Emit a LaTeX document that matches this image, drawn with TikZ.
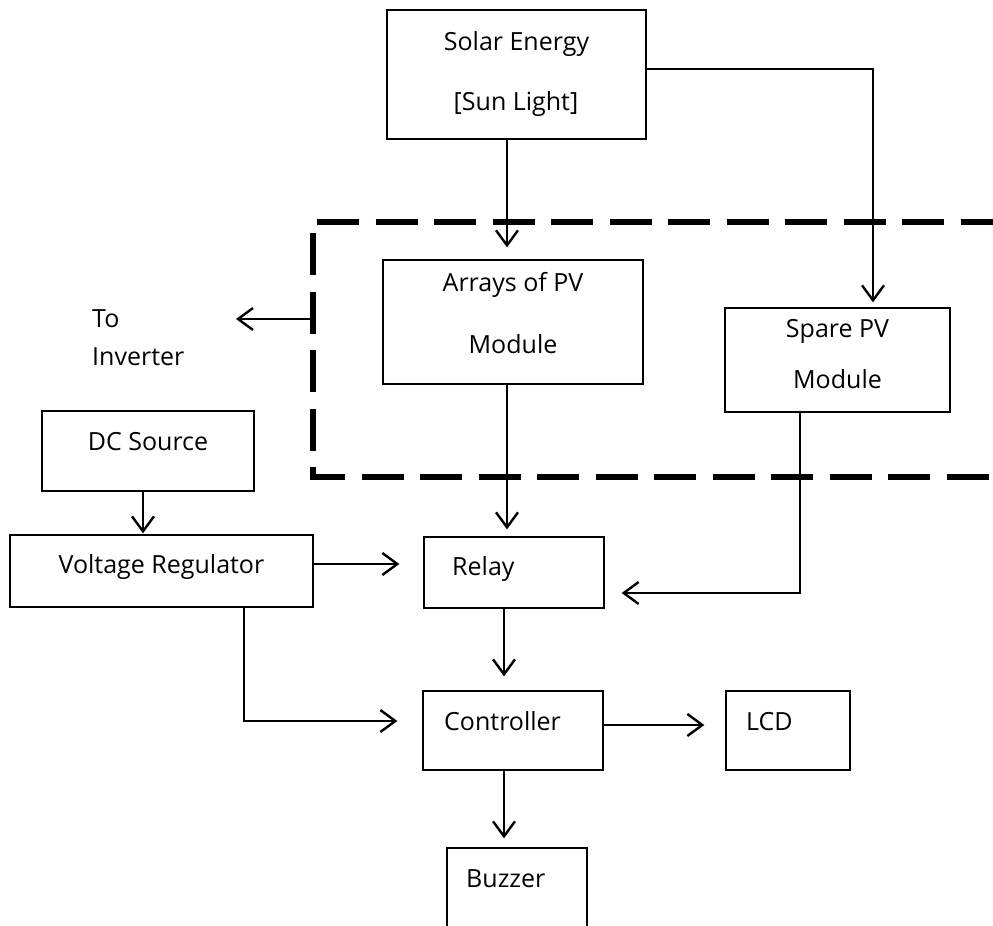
\documentclass[tikz,border=0pt]{standalone}
\usepackage{fontspec}
\setmainfont{Open Sans}
\usetikzlibrary{arrows.meta,calc}
\begin{document}
\begin{tikzpicture}[x=1pt,y=-1pt,
  box/.style args={#1x#2}{draw,line width=1.3pt,inner sep=0pt,minimum width=#1pt,minimum height=#2pt},
  txt/.style={font=\fontsize{25}{29}\selectfont,inner sep=0pt,anchor=mid,yshift=-5pt},
  ltxt/.style={txt,anchor=mid west},
  arr/.style={line width=2.4pt,-{Straight Barb[length=15pt,width=22pt,line width=2.4pt]}},
  dash box/.style={line width=5.5pt,dash pattern=on 42pt off 16.5pt}]
\useasboundingbox (0,0) rectangle (993,926);
% boxes
\node[box={259x129}] (solar) at (516.5,74.5) {};
\node[box={260x124}] (arrays) at (513,322) {};
\node[box={225x104}] (spare) at (837.5,360) {};
\node[box={212x80}] (dc) at (148,451) {};
\node[box={303x72}] (vr) at (161.5,571) {};
\node[box={180x71}] (relay) at (514,572.5) {};
\node[box={180x79}] (ctrl) at (513,730.5) {};
\node[box={124x79}] (lcd) at (788,730.5) {};
\node[box={140x100}] (buzzer) at (517,898) {};
% texts
\node[txt] (t1) at (516.5,43) {Solar Energy};
\node[txt] (t2) at (516,103) {[Sun Light]};
\node[txt] (t3) at (513,284) {Arrays of PV};
\node[txt] (t4) at (513,346) {Module};
\node[txt] (t5) at (837.5,330) {Spare PV};
\node[txt] (t6) at (837.5,381) {Module};
\node[ltxt] (t7) at (92,320) {To};
\node[ltxt] (t8) at (92,358) {Inverter};
\node[txt] (t9) at (148,443) {DC Source};
\node[txt] (t10) at (161.5,566) {Voltage Regulator};
\node[ltxt] (t11) at (452,568) {Relay};
\node[ltxt] (t12) at (444,723) {Controller};
\node[ltxt] (t13) at (746,723) {LCD};
\node[ltxt] (t14) at (466,880) {Buzzer};
% dashed enclosure
\coordinate (dtl) at (317,222);
\coordinate (dtr) at (1010,222);
\coordinate (dlt) at (313,233);
\coordinate (dbl) at (313,477);
\coordinate (dbr) at (1010,477);
\coordinate (inv) at (313,319);
\draw[dash box] (dtl) -- (dtr);
\draw[dash box] (dlt) -- (dbl) -- (dbr);
% connectors
\draw[arr,shorten >=12pt] ([xshift=-9.5pt]solar.south) -- ([xshift=-6pt]arrays.north);
\draw[arr,shorten >=5pt] ([yshift=5.5pt]solar.east) -| ([xshift=35.5pt]spare.north);
\draw[arr] (inv) -- ++(-77,0) coordinate (invtip);
\draw[arr,shorten >=7pt] ([xshift=-6pt]arrays.south) -- ([xshift=-7pt]relay.north);
\draw[arr,shorten >=17pt] ([xshift=-37.5pt]spare.south) |- ([yshift=-20.5pt]relay.east);
\draw[arr,shorten >=1pt] ([xshift=-5pt]dc.south) -- ([xshift=-18.5pt]vr.north);
\draw[arr,shorten >=24pt] ([yshift=7pt]vr.east) -- ([yshift=8.5pt]relay.west);
\draw[arr,shorten >=25pt] ([xshift=82.5pt]vr.south) |- ([yshift=9.5pt]ctrl.west);
\draw[arr,shorten >=14pt] ([xshift=-10pt]relay.south) -- ([xshift=-9pt]ctrl.north);
\draw[arr,shorten >=21pt] ([yshift=5.5pt]ctrl.east) -- ([yshift=5.5pt]lcd.west);
\draw[arr,shorten >=9pt] ([xshift=-9pt]ctrl.south) -- ([xshift=-13pt]buzzer.north);
\end{tikzpicture}
\end{document}
